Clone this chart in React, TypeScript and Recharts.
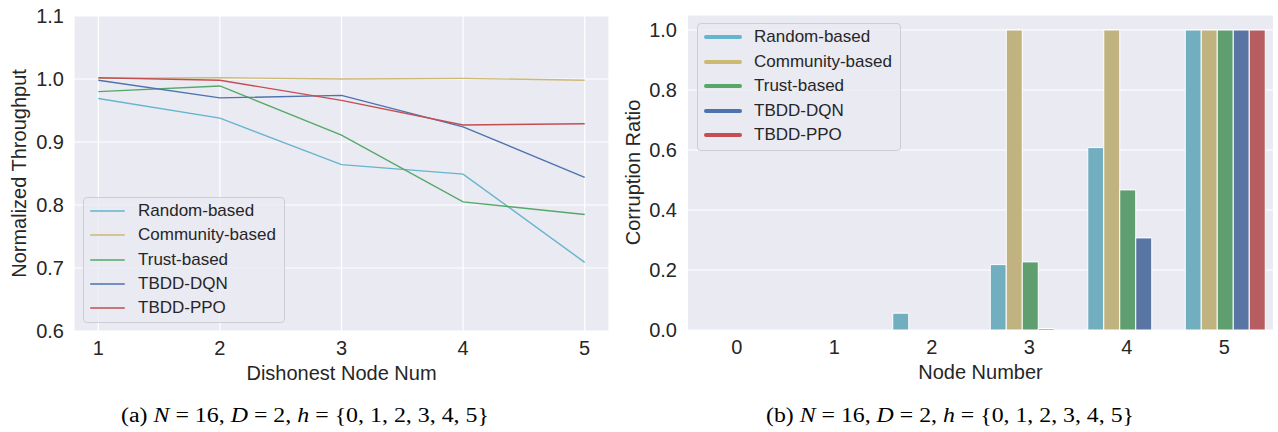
import React from "react";
import {
  Bar,
  BarChart,
  CartesianGrid,
  Line,
  LineChart,
  XAxis,
  YAxis,
} from "recharts";

// (a) throughput vs dishonest node count
const dishonestNum = [1, 2, 3, 4, 5];
const randomTp = [0.969, 0.938, 0.864, 0.849, 0.709];
const communityTp = [1.001, 1.002, 1.0, 1.001, 0.998];
const trustTp = [0.98, 0.989, 0.911, 0.805, 0.785];
const dqnTp = [0.998, 0.97, 0.974, 0.924, 0.844];
const ppoTp = [1.002, 0.998, 0.966, 0.927, 0.929];
const tpTicks = [0.6, 0.7, 0.8, 0.9, 1.0, 1.1];

// (b) corruption ratio vs node number
const nodeNumber = ["0", "1", "2", "3", "4", "5"];
const randomCr = [0, 0, 0.056, 0.218, 0.608, 1];
const communityCr = [0, 0, 0, 1, 1, 1];
const trustCr = [0, 0, 0, 0.227, 0.467, 1];
const dqnCr = [0, 0, 0, 0.005, 0.307, 1];
const ppoCr = [0, 0, 0, 0, 0, 1];
const crTicks = [0, 0.2, 0.4, 0.6, 0.8, 1.0];

const seriesNames = ["Random-based", "Community-based", "Trust-based", "TBDD-DQN", "TBDD-PPO"];
const keys = ["random", "community", "trust", "dqn", "ppo"];
const lineColors = ["#64B5CD", "#CCB974", "#55A868", "#4C72B0", "#C44E52"];
const barColors = ["#71AEC0", "#C1B37F", "#5F9E6E", "#5875A3", "#B55D60"];

const tpRows = dishonestNum.map((x, i) => ({
  x,
  random: randomTp[i],
  community: communityTp[i],
  trust: trustTp[i],
  dqn: dqnTp[i],
  ppo: ppoTp[i],
}));

const crRows = nodeNumber.map((n, i) => ({
  n,
  random: randomCr[i],
  community: communityCr[i],
  trust: trustCr[i],
  dqn: dqnCr[i],
  ppo: ppoCr[i],
}));

const ink = "#262626";
const bg = "#EAEAF2";
const tickStyle = { fontSize: 20, fill: ink };

function LegendBox({ left, top, thick, sampleW, gap, rowH }: any) {
  return (
    <div
      style={{
        position: "absolute",
        left,
        top,
        padding: "1px 8px 2px 6px",
        border: "1px solid #CDCDD6",
        borderRadius: 4,
        background: "rgba(234,234,242,0.8)",
        fontSize: 17,
        color: ink,
      }}
    >
      {seriesNames.map((name, i) => (
        <div key={name} style={{ display: "flex", alignItems: "center", height: rowH }}>
          <svg width={sampleW} height={8} style={{ marginRight: gap }}>
            <line
              x1={thick / 2}
              x2={sampleW - thick / 2}
              y1={4}
              y2={4}
              stroke={lineColors[i]}
              strokeWidth={thick}
              strokeLinecap="round"
            />
          </svg>
          <span>{name}</span>
        </div>
      ))}
    </div>
  );
}

function Caption({ x, tag }: { x: number; tag: string }) {
  return (
    <text
      x={x}
      y={422}
      textAnchor="middle"
      textLength={368}
      lengthAdjust="spacingAndGlyphs"
      style={{ fontFamily: "'Liberation Serif', 'DejaVu Serif', serif", fontSize: 20, fill: "#000" }}
    >
      {`(${tag}) `}
      <tspan fontStyle="italic">N</tspan>
      {" = 16, "}
      <tspan fontStyle="italic">D</tspan>
      {" = 2, "}
      <tspan fontStyle="italic">h</tspan>
      {" = {0, 1, 2, 3, 4, 5}"}
    </text>
  );
}

export default function App() {
  return (
    <div
      style={{
        position: "relative",
        width: 1278,
        height: 432,
        background: "#fff",
        fontFamily: "'Liberation Sans', Arial, sans-serif",
        overflow: "hidden",
      }}
    >
      <style>{"body{margin:0}"}</style>

      <div style={{ position: "absolute", left: 0, top: 0 }}>
        <LineChart width={620} height={400} data={tpRows} margin={{ top: 16, right: 11, bottom: 0, left: 0 }}>
          <CartesianGrid stroke="#fff" strokeWidth={1.2} fill={bg} />
          <XAxis
            dataKey="x"
            type="number"
            domain={[0.8, 5.2]}
            ticks={dishonestNum}
            height={69}
            axisLine={false}
            tickLine={false}
            tickSize={0}
            tickMargin={10}
            tick={tickStyle}
            label={{ value: "Dishonest Node Num", position: "insideBottom", offset: 20, fontSize: 20, fill: ink }}
          />
          <YAxis
            type="number"
            domain={[0.6, 1.1]}
            ticks={tpTicks}
            width={74}
            axisLine={false}
            tickLine={false}
            tickSize={0}
            tickMargin={10}
            tick={tickStyle}
            tickFormatter={(v: number) => v.toFixed(1)}
            label={{
              value: "Normalized Throughput",
              angle: -90,
              position: "insideLeft",
              offset: 19,
              fontSize: 20,
              fill: ink,
              style: { textAnchor: "middle" },
            }}
          />
          {keys.map((k, i) => (
            <Line
              key={k}
              dataKey={k}
              name={seriesNames[i]}
              type="linear"
              stroke={lineColors[i]}
              strokeWidth={1.4}
              dot={false}
              isAnimationActive={false}
            />
          ))}
        </LineChart>
        <LegendBox left={83} top={197} thick={1.6} sampleW={35} gap={13} rowH={24.3} />
      </div>

      <div style={{ position: "absolute", left: 620, top: 0 }}>
        <BarChart
          width={658}
          height={400}
          data={crRows}
          margin={{ top: 15, right: 5, bottom: 0, left: 0 }}
          barCategoryGap="10%"
          barGap={0}
        >
          <CartesianGrid stroke="#fff" strokeWidth={1.2} fill={bg} vertical={false} />
          <XAxis
            dataKey="n"
            height={70}
            axisLine={false}
            tickLine={false}
            tickSize={0}
            tickMargin={10}
            tick={tickStyle}
            label={{ value: "Node Number", position: "insideBottom", offset: 21, fontSize: 20, fill: ink }}
          />
          <YAxis
            type="number"
            domain={[0, 1.05]}
            ticks={crTicks}
            width={68}
            axisLine={false}
            tickLine={false}
            tickSize={0}
            tickMargin={11}
            tick={tickStyle}
            tickFormatter={(v: number) => v.toFixed(1)}
            label={{
              value: "Corruption Ratio",
              angle: -90,
              position: "insideLeft",
              offset: 13,
              fontSize: 20,
              fill: ink,
              style: { textAnchor: "middle" },
            }}
          />
          {keys.map((k, i) => (
            <Bar
              key={k}
              dataKey={k}
              name={seriesNames[i]}
              fill={barColors[i]}
              stroke="#fff"
              strokeWidth={1}
              isAnimationActive={false}
            />
          ))}
        </BarChart>
        <LegendBox left={77} top={23} thick={4} sampleW={38} gap={12} rowH={24.5} />
      </div>

      <svg width={1278} height={432} style={{ position: "absolute", left: 0, top: 0, pointerEvents: "none" }}>
        <Caption x={305} tag="a" />
        <Caption x={950} tag="b" />
      </svg>
    </div>
  );
}
